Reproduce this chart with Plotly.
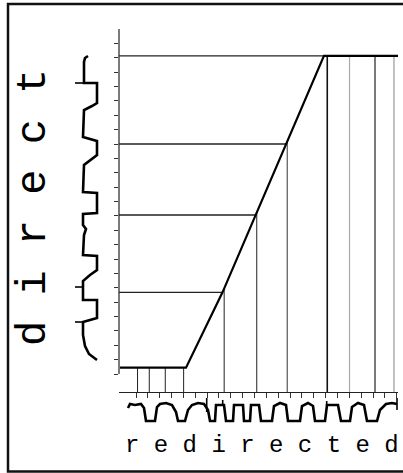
import numpy as np
import plotly.graph_objects as go

W, H = 403, 473

# ---------------- data (chart units: one unit = one tick step) ----------------
x_ticks = list(range(0, 23))          # "redirected" axis ticks
y_ticks = list(range(0, 24))          # "direct" axis ticks

curve_x = [-1.35, 4.22, 7.30, 10.08, 12.66, 15.86, 22.11]
curve_y = [0.44, 0.44, 5.68, 11.06, 16.00, 22.13, 22.13]

h_levels = [22.13, 16.00, 11.06, 5.68]
v_positions = [0.13, 1.12, 2.47, 4.02, 7.44, 10.19, 12.76, 16.14, 18.02, 20.17, 21.77]
v_colors = ["#222", "#222", "#222", "#222", "#222", "#222", "#333", "#111", "#aaa", "#222", "#999"]
v_widths = [1, 1, 1, 1, 1, 1, 1, 1.6, 1.2, 1.2, 1.2]

# decorative wavy signals (canvas units, origin top-left)
ywave_x = [88, 85, 84, 84, 97, 97, 92, 84, 83, 90, 97, 97, 92, 84, 83, 97, 97, 83, 83, 86, 84, 83,
           97, 97, 90, 83, 83, 97, 97, 83, 83, 85, 89, 97]
ywave_y = [56, 58, 62, 83, 83, 103, 106, 110, 137, 139, 141, 155, 159, 165, 192, 193, 213, 214, 225,
           229, 235, 255, 256, 270, 275, 281, 300, 300, 318, 322, 335, 346, 354, 360]
ystub_y = [83, 287, 322]

xwave_x = [128, 130, 135, 141, 144, 146, 155, 157, 160, 166, 172, 176, 178, 185, 188, 192, 198, 204,
           208, 210, 215, 216, 224, 226, 233, 234, 243, 244, 250, 251, 259, 261, 272, 274, 280, 286,
           288, 300, 302, 308, 313, 315, 325, 327, 338, 341, 350, 352, 358, 364, 367, 377, 380, 386,
           392, 397]
xwave_y = [408, 404, 405, 404, 408, 421, 421, 407, 404, 403, 405, 412, 421, 421, 410, 405, 403, 404,
           410, 421, 421, 405, 405, 421, 421, 405, 405, 421, 421, 405, 405, 421, 421, 406, 403, 405,
           421, 421, 406, 403, 406, 421, 421, 405, 405, 421, 421, 407, 403, 405, 421, 421, 410, 404,
           403, 404]
xstub_x = [206.7, 222.7, 326.7, 397]
xstub_top = [398, 400, 401, 398]
xstub_bot = [412, 406, 406, 410]

x_label = "redirected"
y_label = "direct"

# ---------------- layout geometry ----------------
x_range = [-1.435, 22.11]
y_range = [-1.252, 24.0]
x_dom = [119 / W, 398 / W]
y_dom = [1 - 392 / H, 1 - 29 / H]

fig = go.Figure()

# horizontal lines from the y axis to the curve
ramp_x, ramp_y = curve_x[1:6], curve_y[1:6]
for lv in h_levels:
    xe = float(np.interp(lv, ramp_y, ramp_x))
    fig.add_trace(go.Scatter(x=[x_range[0], xe], y=[lv, lv], mode="lines",
                             line=dict(color="#222", width=1.3), hoverinfo="skip"))

# vertical lines from the x axis to the curve
for v, c, w in zip(v_positions, v_colors, v_widths):
    ye = float(np.interp(v, curve_x, curve_y))
    fig.add_trace(go.Scatter(x=[v, v], y=[y_range[0], ye], mode="lines",
                             line=dict(color=c, width=w), hoverinfo="skip"))

# the curve
fig.add_trace(go.Scatter(x=curve_x, y=curve_y, mode="lines",
                         line=dict(color="black", width=2.2), hoverinfo="skip"))

# wavy signals on a full-canvas overlay
fig.add_trace(go.Scatter(x=ywave_x, y=ywave_y, mode="lines", xaxis="x2", yaxis="y2",
                         line=dict(color="black", width=2.6), hoverinfo="skip"))
fig.add_trace(go.Scatter(x=xwave_x, y=xwave_y, mode="lines", xaxis="x2", yaxis="y2",
                         line=dict(color="black", width=2.6), hoverinfo="skip"))
sx, sy = [], []
for yy in ystub_y:
    sx += [75, 84, None]
    sy += [yy, yy, None]
for xx, t, b in zip(xstub_x, xstub_top, xstub_bot):
    sx += [xx, xx, None]
    sy += [t, b, None]
fig.add_trace(go.Scatter(x=sx, y=sy, mode="lines", xaxis="x2", yaxis="y2",
                         line=dict(color="black", width=1.6), hoverinfo="skip"))

fig.update_layout(
    width=W, height=H,
    margin=dict(l=0, r=0, t=0, b=0),
    paper_bgcolor="white",
    plot_bgcolor="rgba(0,0,0,0)",
    showlegend=False,
    xaxis=dict(domain=x_dom, range=x_range, anchor="y",
               showline=True, linecolor="#222", linewidth=1.2,
               ticks="outside", tickvals=x_ticks, ticklen=5, tickwidth=1, tickcolor="#333",
               showticklabels=False, showgrid=False, zeroline=False, fixedrange=True),
    yaxis=dict(domain=y_dom, range=y_range, anchor="x",
               showline=False,
               ticks="outside", tickvals=y_ticks, ticklen=4, tickwidth=1, tickcolor="#333",
               showticklabels=False, showgrid=False, zeroline=False, fixedrange=True),
    xaxis2=dict(domain=[0, 1], range=[0, W], anchor="y2", visible=False, fixedrange=True),
    yaxis2=dict(domain=[0, 1], range=[H, 0], anchor="x2", visible=False, fixedrange=True),
    shapes=[
        # y-axis spine (ends at the lowest tick)
        dict(type="line", xref="x domain", yref="y", x0=0, x1=0, y0=0, y1=y_range[1],
             line=dict(color="#222", width=1.2)),
        # frame
        dict(type="rect", xref="paper", yref="paper", x0=8 / W, x1=1.02,
             y0=1 - 471.5 / H, y1=1 - 4 / H, line=dict(color="#111", width=2.5)),
    ],
    annotations=[
        dict(text=" ".join(y_label), xref="paper", yref="paper", x=34 / W, y=1 - 208 / H,
             textangle=-90, showarrow=False, xanchor="center", yanchor="middle",
             font=dict(family="Liberation Mono", size=42, color="black")),
        dict(text=" ".join(x_label), xref="paper", yref="paper", x=262 / W, y=1 - 445 / H,
             showarrow=False, xanchor="center", yanchor="middle",
             font=dict(family="Liberation Mono", size=24, color="black")),
    ],
)

fig.write_html(
    "out.html",
    config={"displayModeBar": False},
    post_script="document.body.style.margin='0px';document.body.style.overflow='hidden';",
)
